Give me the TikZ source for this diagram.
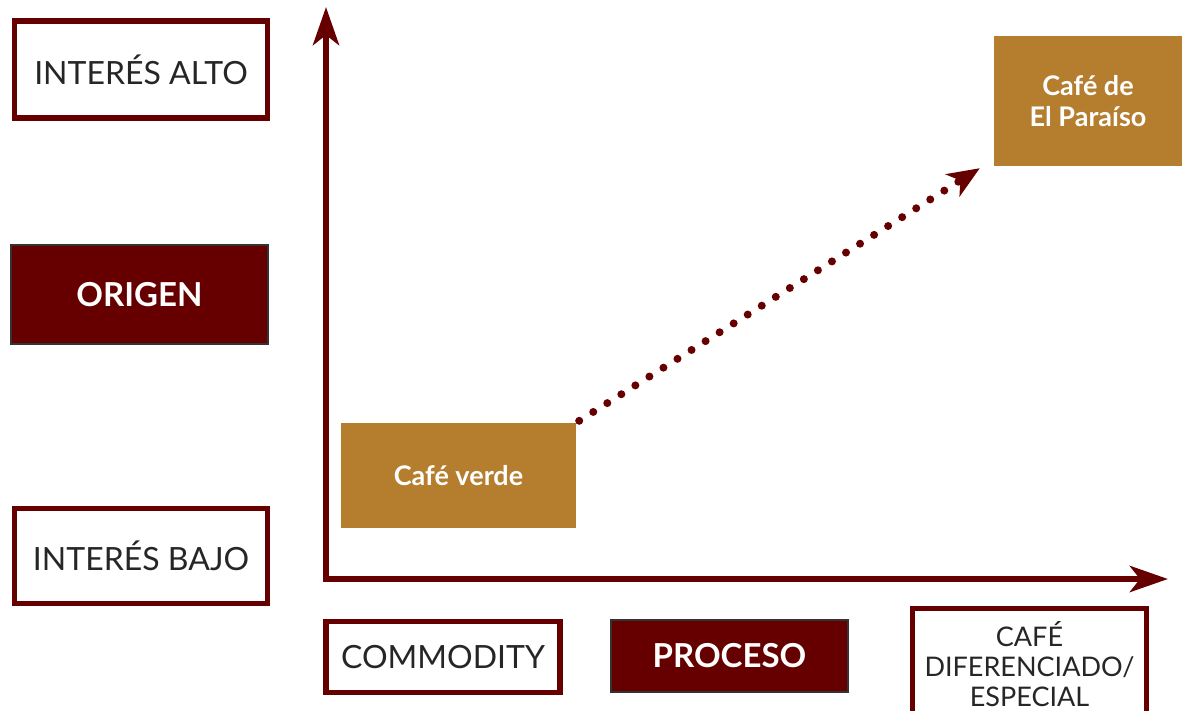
\documentclass[tikz,border=0pt]{standalone}
\usepackage{fontspec}
\setmainfont{Lato}
\usetikzlibrary{arrows.meta}
\definecolor{wine}{HTML}{660000}
\definecolor{gold}{HTML}{B57E2F}
\definecolor{txt}{HTML}{262626}
\tikzset{
  outlinebox/.style={draw=wine, line width=5.5pt, fill=white, text=txt, inner sep=0pt, font=\fontsize{32}{36}\selectfont},
  darkbox/.style={draw=black!80, line width=1.5pt, fill=wine, text=white, inner sep=0pt, font=\bfseries\fontsize{33}{36}\selectfont},
  goldbox/.style={fill=gold, text=white, inner sep=0pt, align=center, font=\bfseries\fontsize{27}{31}\selectfont},
  axis/.style={draw=wine, line width=6.5pt, -{Stealth[length=38pt, width=26pt, inset=10pt]}},
}
\begin{document}
\begin{tikzpicture}[x=1pt, y=-1pt]
\useasboundingbox (0,0) rectangle (1182,711);
% left column
\node[outlinebox, minimum width=253pt, minimum height=97pt] (alto) at (141,69.5) {INTERÉS ALTO};
\node[darkbox, minimum width=257pt, minimum height=99pt] (origen) at (139.5,294.5) {ORIGEN};
\node[outlinebox, minimum width=253pt, minimum height=95pt] (bajo) at (141,556) {INTERÉS BAJO};
% axes
\coordinate (corner) at (326,579);
\coordinate (ytip) at (326,7);
\coordinate (xtip) at (1168,579);
\draw[axis] ([yshift=3pt]corner) -- (ytip);
\draw[axis] ([xshift=-3pt]corner) -- (xtip);
% bottom row
\node[outlinebox, minimum width=234pt, minimum height=71pt] (commodity) at (443,657) {COMMODITY};
\node[darkbox, minimum width=237pt, minimum height=72pt] (proceso) at (729.5,656) {PROCESO};
\node[outlinebox, minimum width=234pt, minimum height=112pt, align=center, font=\fontsize{27}{30}\selectfont] (especial) at (1029.5,664.5) {CAFÉ\\DIFERENCIADO/\\ESPECIAL};
% gold boxes
\node[goldbox, minimum width=235pt, minimum height=105pt] (verde) at (458.5,475.5) {Café verde};
\node[goldbox, minimum width=188pt, minimum height=130pt] (paraiso) at (1088,101) {Café de\\El Paraíso};
% dotted arrow
\coordinate (dtip) at ([xshift=-14pt,yshift=-2pt]paraiso.south west);
\draw[wine, line width=8pt, line cap=round, dash pattern=on 0pt off 16.6pt,
  -{Stealth[length=32pt, width=26pt, inset=9pt]}]
  ([xshift=3pt,yshift=2pt]verde.north east) -- (dtip);
\end{tikzpicture}
\end{document}
